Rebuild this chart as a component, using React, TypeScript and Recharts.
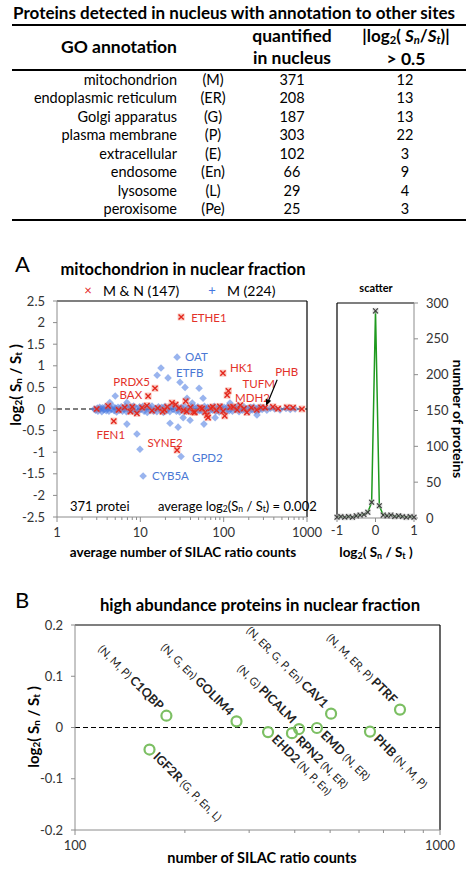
import React from "react";
import { ScatterChart, Scatter, XAxis, YAxis, ReferenceLine, LineChart, Line } from "recharts";

const FONT = "Lato, 'Open Sans', sans-serif";

// ---- table ----
const goTerms = ["mitochondrion", "endoplasmic reticulum", "Golgi apparatus", "plasma membrane", "extracellular", "endosome", "lysosome", "peroxisome"];
const goAbbrev = ["(M)", "(ER)", "(G)", "(P)", "(E)", "(En)", "(L)", "(Pe)"];
const quantified = [371, 208, 187, 303, 102, 66, 29, 25];
const changedCount = [12, 13, 13, 22, 3, 9, 4, 3];

// ---- panel A: mitochondrial proteins, [avg SILAC counts, log2(Sn/St)] ----
const mnOutliers: [number, number, string][] = [
  [30.9, 2.13, "ETHE1"], [98, 0.83, "HK1"], [114, 0.42, "TUFM"], [110, 0.32, "MDH2"],
  [315, 0.03, "PHB"], [15, 0.48, "PRDX5"], [12.4, 0.3, "BAX"], [4.8, -0.28, "FEN1"], [27.6, -0.95, "SYNE2"],
];
const mnBand: [number, number][] = [
  [3.0, 0.0], [4.1, 0.07], [5.5, -0.02], [6.5, 0.04], [7.6, -0.06], [9.1, -0.1], [10.5, 0.03], [12.0, 0.08],
  [13.8, -0.04], [16.2, 0.02], [18.5, -0.06], [21.0, 0.05], [24.0, 0.14], [26.5, 0.1], [29, 0.02], [33, -0.03],
  [35, 0.18], [36, -0.06], [40, 0.04], [43, -0.07], [45, -0.08], [52, 0.03], [60, -0.07], [63, -0.14], [65, -0.2],
  [70, 0.02], [74, 0.05], [82, -0.03], [90, 0.06], [103, -0.16], [120, 0.04], [130, 0.05], [145, -0.02],
  [158, 0.09], [175, 0.01], [190, -0.08], [215, 0.03], [250, -0.02], [280, 0.04], [390, 0.05], [450, 0.01],
  [575, 0.04], [680, 0.03], [870, 0.0], [8.0, 0.05], [19.5, -0.02], [55, 0.01], [98.5, -0.05],
];
const mOutliers: [number, number, string][] = [
  [27.6, 1.2, "OAT"], [17.7, 0.95, "ETFB"], [30.8, -1.1, "GPD2"], [10.8, -1.55, "CYB5A"],
];
const mBand: [number, number][] = [
  [15.9, 0.78], [21.5, 0.72], [29.9, 0.62], [34.4, 0.5], [50.7, 0.48], [36.3, 0.25], [5.0, 0.3], [56.6, 0.25],
  [6.9, -0.35], [9.1, -0.58], [9.9, -0.93], [28.4, -0.42], [22.7, -0.33], [39.5, -0.26], [58, -0.35], [79, -0.2],
  [251, -0.14], [119, 0.14], [42, 0.14], [4.3, 0.15], [6.9, 0.15], [32.7, -0.2],
  [2.8, 0.0], [2.9, -0.03], [3.05, 0.02], [3.1, -0.05], [3.25, 0.04], [3.3, 0.0], [3.45, -0.06], [3.5, 0.03],
  [3.65, -0.02], [3.8, 0.05], [3.9, -0.04], [4.05, 0.01], [4.2, -0.05], [4.35, 0.04], [4.5, -0.01], [4.7, 0.06],
  [4.85, -0.04], [5.05, 0.02], [5.2, -0.07], [5.4, 0.04], [5.65, -0.03], [5.9, 0.05], [6.1, -0.05], [6.35, 0.0],
  [6.6, 0.06], [6.8, -0.06], [7.1, 0.03], [7.4, -0.04], [7.7, 0.05], [8.0, -0.02], [8.3, 0.07], [8.6, -0.06],
  [9.0, 0.02], [9.4, -0.05], [9.8, 0.05], [10.2, -0.01], [10.7, 0.06], [11.1, -0.05], [11.6, 0.03], [12.1, -0.08],
  [12.7, 0.05], [13.2, -0.03], [13.8, 0.07], [14.4, -0.05], [15.1, 0.01], [15.8, -0.06], [16.5, 0.05], [17.3, -0.02],
  [18.1, 0.04], [18.9, -0.08], [19.8, 0.06], [20.7, -0.04], [21.6, 0.02], [22.6, -0.06], [23.7, 0.05], [24.8, -0.01],
  [25.9, 0.07], [27.1, -0.05], [28.4, 0.03], [29.7, -0.07], [31.1, 0.04], [32.5, -0.03], [34.0, 0.06], [35.6, -0.05],
  [37.3, 0.01], [39.0, -0.04], [40.8, 0.05], [42.7, -0.02], [44.7, 0.04], [46.8, -0.06], [49.0, 0.05], [51.3, -0.04],
  [53.7, 0.02], [56.2, -0.07], [58.8, 0.06], [61.5, -0.02], [64.4, 0.04], [67.4, -0.05], [70.5, 0.03], [73.8, -0.03],
  [77.2, 0.06], [80.8, -0.05], [84.6, 0.01], [88.5, -0.07], [92.6, 0.05], [97.0, -0.02], [101.5, 0.04], [106.2, -0.06],
  [111.2, 0.05], [116.4, -0.04], [121.8, 0.02], [127.5, -0.05], [133.4, 0.04], [139.6, -0.01], [146.1, 0.06], [152.9, -0.06],
  [160.0, 0.03], [167.5, -0.03], [175.3, 0.05], [183.5, -0.04], [192.1, 0.01], [201.0, -0.06], [210.4, 0.04], [220.2, -0.02],
  [230.5, 0.05], [241.2, -0.04], [252.5, 0.02], [264.3, -0.03], [276.6, 0.04], [289.5, -0.01], [303.0, 0.03], [330, -0.03],
  [365, 0.02], [410, 0.0], [475, -0.02], [560, 0.01], [630, -0.01], [720, 0.0],
];
const majorTicksA = [1, 10, 100, 1000];
const minorTicksA = [2, 3, 4, 5, 6, 7, 8, 9, 20, 30, 40, 50, 60, 70, 80, 90, 200, 300, 400, 500, 600, 700, 800, 900];
const yTicksA = [-2.5, -2, -1.5, -1, -0.5, 0, 0.5, 1, 1.5, 2, 2.5];

// ---- panel A inset: distribution of log2(Sn/St) ----
const histBins = [-1, -0.9, -0.8, -0.7, -0.6, -0.5, -0.4, -0.3, -0.2, -0.1, 0, 0.1, 0.2, 0.3, 0.4, 0.5, 0.6, 0.7, 0.8, 0.9, 1];
const histCounts = [1, 2, 1, 2, 1, 3, 4, 5, 8, 22, 289, 17, 4, 3, 4, 2, 3, 2, 1, 2, 1];

// ---- panel B: high abundance proteins ----
const hiNames = ["C1QBP", "IGF2R", "GOLIM4", "EHD2", "RPN2", "PICALM", "EMD", "CAV1", "PHB", "PTRF"];
const hiCounts = [178, 160, 277, 338, 393, 411, 460, 503, 643, 777];
const hiRatios = [0.023, -0.043, 0.012, -0.009, -0.011, -0.003, -0.001, 0.027, -0.008, 0.035];
const hiSites = ["(N, M, P)", "(G, P, En, L)", "(N, G, En)", "(N, P, En)", "(N, ER)", "(N, G)", "(N, ER)", "(N, ER, G, P, En)", "(N, M, P)", "(N, M, ER, P)"];
const labelAbove = ["C1QBP", "GOLIM4", "PICALM", "CAV1", "PTRF"];
const majorTicksB = [100, 1000];
const minorTicksB = [200, 300, 400, 500, 600, 700, 800, 900];
const yTicksB = [-0.2, -0.1, 0, 0.1, 0.2];

const LABEL_A: Record<string, { dx: number; dy: number; anchor: "start" | "middle" | "end" }> = {
  ETHE1: { dx: 10, dy: 5, anchor: "start" },
  HK1: { dx: 7, dy: -1, anchor: "start" },
  TUFM: { dx: 14, dy: -3, anchor: "start" },
  MDH2: { dx: 8, dy: 7, anchor: "start" },
  PHB: { dx: 10, dy: -32, anchor: "start" },
  PRDX5: { dx: -5, dy: -2, anchor: "end" },
  BAX: { dx: -6, dy: 3, anchor: "end" },
  FEN1: { dx: -3, dy: 18, anchor: "middle" },
  SYNE2: { dx: -12, dy: -3, anchor: "middle" },
  OAT: { dx: 8, dy: 4, anchor: "start" },
  ETFB: { dx: 15, dy: 9, anchor: "start" },
  GPD2: { dx: 11, dy: 5, anchor: "start" },
  CYB5A: { dx: 9, dy: 4, anchor: "start" },
};

const RED = "#e3261d";
const BLUE = "#4576e0";
const GRAY_AXIS = "#8c8c8c";

const toPts = (a: [number, number][]) => a.map(([x, y]) => ({ x, y }));
const mnData = [...toPts(mnBand), ...mnOutliers.map(([x, y, label]) => ({ x, y, label }))];
const mData = [...toPts(mBand), ...mOutliers.map(([x, y, label]) => ({ x, y, label }))];
const histData = histBins.map((bin, i) => ({ bin, count: histCounts[i] }));
const hiData = hiNames.map((name, i) => ({ name, x: hiCounts[i], y: hiRatios[i], sites: hiSites[i] }));

function PointLabel({ cx, cy, label, color }: any) {
  const p = LABEL_A[label];
  if (!p) return null;
  return (
    <text x={cx + p.dx} y={cy + p.dy} textAnchor={p.anchor} fontSize={11.5} fontFamily={FONT} fill={color}>
      {label}
    </text>
  );
}

function RedCross(props: any) {
  const { cx, cy, payload } = props;
  if (cx == null || cy == null) return null;
  const s = 2.6;
  return (
    <g>
      <rect x={cx - 3.5} y={cy - 3.5} width={7} height={7} fill="#f26b4f" fillOpacity={0.35} />
      <path d={`M${cx - s},${cy - s}L${cx + s},${cy + s}M${cx - s},${cy + s}L${cx + s},${cy - s}`} stroke={RED} strokeWidth={1.4} />
      {payload.label && <PointLabel cx={cx} cy={cy} label={payload.label} color="#e3312a" />}
      {payload.label === "PHB" && (
        <g>
          <line x1={cx + 12} y1={cy - 28} x2={cx + 2.5} y2={cy - 5} stroke="#000" strokeWidth={1.2} />
          <polygon points={`${cx + 1},${cy - 2} ${cx + 6},${cy - 7} ${cx + 0.6},${cy - 9}`} fill="#000" />
        </g>
      )}
    </g>
  );
}

function BlueDiamond(props: any) {
  const { cx, cy, payload } = props;
  if (cx == null || cy == null) return null;
  const s = 3.8;
  return (
    <g>
      <polygon points={`${cx},${cy - s} ${cx + s},${cy} ${cx},${cy + s} ${cx - s},${cy}`} fill={BLUE} fillOpacity={0.55} />
      {payload.label && <PointLabel cx={cx} cy={cy} label={payload.label} color="#4a78d4" />}
    </g>
  );
}

function HistMark(props: any) {
  const { cx, cy } = props;
  if (cx == null || cy == null) return null;
  const s = 2.4;
  return (
    <g>
      <rect x={cx - 3} y={cy - 3} width={6} height={6} fill="#bbb" fillOpacity={0.5} />
      <path d={`M${cx - s},${cy - s}L${cx + s},${cy + s}M${cx - s},${cy + s}L${cx + s},${cy - s}`} stroke="#3a3a3a" strokeWidth={1.1} />
    </g>
  );
}

function Ring(props: any) {
  const { cx, cy, payload } = props;
  if (cx == null || cy == null) return null;
  const above = labelAbove.includes(payload.name);
  const tx = above ? cx - 8 : cx + 3;
  const ty = above ? cy - 5 : cy + 8;
  return (
    <g>
      <circle cx={cx} cy={cy} r={5} fill="none" stroke="#7cbf63" strokeWidth={2.2} />
      <text transform={`translate(${tx},${ty}) rotate(45)`} textAnchor={above ? "end" : "start"} fontSize={11} fontFamily={FONT} fill="#222">
        {above ? (
          <>
            <tspan>{payload.sites} </tspan>
            <tspan fontWeight="bold" fontSize={12.5}>{payload.name}</tspan>
          </>
        ) : (
          <>
            <tspan fontWeight="bold" fontSize={12.5}>{payload.name}</tspan>
            <tspan> {payload.sites}</tspan>
          </>
        )}
      </text>
    </g>
  );
}

function LogTick(props: any) {
  const { x, y, payload, majors } = props;
  const v = payload.value;
  const major = majors.includes(v);
  return (
    <g>
      <line x1={x} x2={x} y1={y} y2={y + (major ? 5 : 3)} stroke={GRAY_AXIS} />
      {major && (
        <text x={x} y={y + 20} textAnchor="middle" fontSize={13} fontFamily={FONT} fill="#333">
          {v}
        </text>
      )}
    </g>
  );
}

function Txt({ x, y, size, bold, align = "left", color = "#000", rotate = 0, children }: any) {
  const tx = align === "center" ? "-50%" : align === "right" ? "-100%" : "0";
  return (
    <div
      style={{
        position: "absolute",
        left: x,
        top: y,
        transform: rotate ? `translate(-50%,-50%) rotate(${rotate}deg)` : `translate(${tx},-50%)`,
        fontSize: size,
        fontWeight: bold ? "bold" : "normal",
        color,
        whiteSpace: "nowrap",
        lineHeight: 1,
        fontFamily: FONT,
      }}
    >
      {children}
    </div>
  );
}

const sub = (t: string) => <span style={{ fontSize: "0.66em", verticalAlign: "-0.18em", lineHeight: 0 }}>{t}</span>;
const Log2Ratio = () => (
  <>
    log{sub("2")}( S{sub("n")} / S{sub("t")} )
  </>
);

const Rule = ({ y, h }: { y: number; h: number }) => (
  <div style={{ position: "absolute", left: 12, top: y, width: 454, height: h, background: "#000" }} />
);

export default function App() {
  const tickStyle = { fontSize: 13, fontFamily: FONT, fill: "#333" };
  return (
    <div style={{ position: "absolute", left: 0, top: 0, width: 469, height: 872, background: "#fff", fontFamily: FONT, overflow: "hidden" }}>
      {/* table */}
      <Txt x={234} y={12} size={17} bold align="center">Proteins detected in nucleus with annotation to other sites</Txt>
      <Rule y={24} h={2} />
      <Txt x={177} y={47} size={17.5} bold align="right">GO annotation</Txt>
      <Txt x={292} y={36} size={17.5} bold align="center">quantified</Txt>
      <Txt x={292} y={58} size={17.5} bold align="center">in nucleus</Txt>
      <Txt x={406} y={35} size={17} bold align="center">
        |log{sub("2")}( <i>S{sub("n")}</i>/<i>S{sub("t")}</i>)|
      </Txt>
      <Txt x={406} y={59} size={17.5} bold align="center">&gt; 0.5</Txt>
      <Rule y={69} h={2} />
      {goTerms.map((t, i) => (
        <React.Fragment key={t}>
          <Txt x={177} y={79.5 + i * 18.55} size={14.5} align="right">{t}</Txt>
          <Txt x={213} y={79.5 + i * 18.55} size={14.5} align="center">{goAbbrev[i]}</Txt>
          <Txt x={292} y={79.5 + i * 18.55} size={14.5} align="center">{quantified[i]}</Txt>
          <Txt x={405} y={79.5 + i * 18.55} size={14.5} align="center">{changedCount[i]}</Txt>
        </React.Fragment>
      ))}
      <Rule y={219} h={1.5} />

      {/* panel A */}
      <Txt x={15} y={264} size={22}>A</Txt>
      <Txt x={183} y={269} size={16.5} bold align="center">mitochondrion in nuclear fraction</Txt>
      <Txt x={88} y={290} size={13} align="center" color={RED}>×</Txt>
      <Txt x={103} y={291} size={14}>M &amp; N (147)</Txt>
      <Txt x={212} y={290} size={13} align="center" color={BLUE}>+</Txt>
      <Txt x={227} y={291} size={14}>M (224)</Txt>

      <div style={{ position: "absolute", left: 0, top: 280 }}>
        <ScatterChart width={340} height={300} margin={{ top: 21, right: 33, bottom: 23, left: 10 }}>
          <XAxis
            type="number"
            dataKey="x"
            scale="log"
            domain={[1, 1000]}
            allowDataOverflow
            ticks={[...majorTicksA, ...minorTicksA]}
            interval={0}
            height={40}
            stroke={GRAY_AXIS}
            tickLine={false}
            tickSize={0}
            tickMargin={0}
            tick={<LogTick majors={majorTicksA} />}
          />
          <YAxis
            type="number"
            dataKey="y"
            domain={[-2.5, 2.5]}
            ticks={yTicksA}
            interval={0}
            width={47}
            stroke={GRAY_AXIS}
            tickSize={4}
            tickMargin={8}
            tick={tickStyle}
          />
          <ReferenceLine y={2.5} stroke="#000" strokeWidth={1.2} />
          <ReferenceLine x={1000} stroke="#000" strokeWidth={1.2} />
          <Scatter data={mData} shape={BlueDiamond} isAnimationActive={false} />
          <Scatter data={mnData} shape={RedCross} isAnimationActive={false} />
          <ReferenceLine y={0} stroke="#000" strokeDasharray="5 3" strokeWidth={1.2} />
        </ScatterChart>
      </div>
      <Txt x={70} y={506} size={13}>371 protei</Txt>
      <Txt x={158} y={506} size={13}>
        average log{sub("2")}(S{sub("n")} / S{sub("t")}) = 0.002
      </Txt>
      <Txt x={15} y={385} size={15} bold rotate={-90}>
        <Log2Ratio />
      </Txt>
      <Txt x={183} y={553} size={13.5} bold align="center">average number of SILAC ratio counts</Txt>

      {/* panel A inset */}
      <Txt x={376} y={287} size={11} bold align="center">scatter</Txt>
      <div style={{ position: "absolute", left: 320, top: 280 }}>
        <LineChart width={149} height={300} data={histData} margin={{ top: 23, right: 20, bottom: 32, left: 17 }}>
          <XAxis
            type="number"
            dataKey="bin"
            domain={[-1, 1]}
            ticks={[-1, 0, 1]}
            height={30}
            stroke={GRAY_AXIS}
            tickSize={4}
            tickMargin={4}
            tick={tickStyle}
          />
          <YAxis
            orientation="right"
            type="number"
            domain={[0, 300]}
            ticks={[0, 50, 100, 150, 200, 250, 300]}
            width={35}
            stroke={GRAY_AXIS}
            tickSize={4}
            tickMargin={8}
            tick={tickStyle}
          />
          <ReferenceLine y={300} stroke="#000" strokeWidth={1.2} />
          <ReferenceLine x={-1} stroke="#000" strokeWidth={1.2} />
          <Line dataKey="count" type="linear" stroke="#1f9a1f" strokeWidth={1.5} dot={<HistMark />} isAnimationActive={false} />
        </LineChart>
      </div>
      <Txt x={376} y={553} size={13.5} bold align="center">
        <Log2Ratio />
      </Txt>
      <Txt x={458} y={419} size={14} bold rotate={90}>number of proteins</Txt>

      {/* panel B */}
      <Txt x={15} y={600} size={22}>B</Txt>
      <Txt x={260} y={605} size={16.7} bold align="center">high abundance proteins in nuclear fraction</Txt>
      <div style={{ position: "absolute", left: 0, top: 600 }}>
        <ScatterChart width={469} height={272} margin={{ top: 25, right: 29, bottom: 17, left: 30 }}>
          <XAxis
            type="number"
            dataKey="x"
            scale="log"
            domain={[100, 1000]}
            allowDataOverflow
            ticks={[...majorTicksB, ...minorTicksB]}
            interval={0}
            height={25}
            stroke={GRAY_AXIS}
            tickLine={false}
            tickSize={0}
            tickMargin={0}
            tick={<LogTick majors={majorTicksB} />}
          />
          <YAxis
            type="number"
            dataKey="y"
            domain={[-0.2, 0.2]}
            ticks={yTicksB}
            interval={0}
            width={45}
            stroke={GRAY_AXIS}
            tickSize={4}
            tickMargin={8}
            tick={tickStyle}
          />
          <ReferenceLine y={0.2} stroke="#000" strokeWidth={1.2} />
          <ReferenceLine x={1000} stroke="#000" strokeWidth={1.2} />
          <ReferenceLine y={0} stroke="#000" strokeDasharray="5 3" strokeWidth={1.2} />
          <Scatter data={hiData} shape={Ring} isAnimationActive={false} />
        </ScatterChart>
      </div>
      <Txt x={33} y={727} size={15} bold rotate={-90}>
        <Log2Ratio />
      </Txt>
      <Txt x={262} y={858} size={14.5} bold align="center">number of SILAC ratio counts</Txt>
    </div>
  );
}
